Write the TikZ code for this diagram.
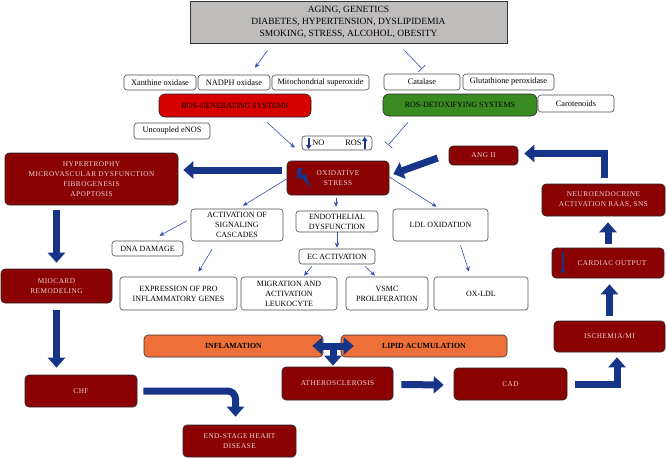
\documentclass[tikz,border=0pt]{standalone}
\usepackage{fontspec}
\setmainfont{Liberation Serif}
\newfontfamily\widefont[LetterSpace=6]{Liberation Serif}
\usetikzlibrary{positioning, arrows.meta}
\definecolor{boxred}{RGB}{139,2,2}
\definecolor{boxtext}{RGB}{240,212,212}
\definecolor{topgray}{RGB}{191,188,188}
\definecolor{genred}{RGB}{214,0,0}
\definecolor{detoxgreen}{RGB}{58,138,34}
\definecolor{lipidorange}{RGB}{238,112,56}
\definecolor{navy}{RGB}{22,52,136}
\definecolor{arrblue}{RGB}{50,82,172}

\begin{document}
\begin{tikzpicture}
    [x=1pt, y=-1pt,
     every node/.style={align=center, rounded corners=3pt, inner sep=1pt},
     plain/.style={draw=black!70, line width=.6pt, fill=white, font=\fontsize{8}{10}\selectfont},
     enzyme/.style={plain, font=\fontsize{8.3}{9}\selectfont},
     dark/.style={draw=black!85, line width=.6pt, fill=boxred, text=boxtext, rounded corners=4pt, font=\widefont\fontsize{7.3}{10}\selectfont},
     system/.style={draw=black!85, line width=.6pt, rounded corners=6pt, font=\fontsize{8}{9}\selectfont},
     orange/.style={draw=black!80, line width=.6pt, fill=lipidorange, rounded corners=4pt, font=\fontsize{7.8}{9}\selectfont\bfseries},
     arr/.style={draw=arrblue, line width=.6pt, -{Stealth[length=5pt,width=4.5pt]}},
     block/.style={draw=arrblue, line width=.6pt, -{Bar[width=10pt]}},
     fat/.style={draw=navy, line width=7pt, -{Triangle[length=10pt,width=17pt]}},
     mini/.style={draw=navy, line width=1.8pt, -{Triangle[length=4pt,width=5pt]}},
    ]
    \useasboundingbox (0,0) rectangle (667,458);

    \node (risk) [draw=black!80, line width=1pt, fill=topgray, rounded corners=0,
        minimum width=317, minimum height=42, font=\fontsize{9.5}{12}\selectfont] at (348.5,22) {
        AGING, GENETICS\\
        DIABETES, HYPERTENSION, DYSLIPIDEMIA\\
        SMOKING, STRESS, ALCOHOL, OBESITY
    };

    \node (xanthine) [enzyme, minimum width=72, minimum height=15] at (160,82.5) {Xanthine oxidase};
    \node (nadph) [enzyme, minimum width=72, minimum height=15] at (234,82.5) {NADPH oxidase};
    \node (mito) [enzyme, minimum width=97, minimum height=15] at (320.5,82.5) {Mitochondrial superoxide};
    \node (catalase) [enzyme, minimum width=76, minimum height=16] at (422,82) {Catalase};
    \node (glutathione) [enzyme, minimum width=91, minimum height=16] at (508.5,82) {Glutathione peroxidase};
    \node (ros-gen) [system, fill=genred, minimum width=152, minimum height=23] at (235,105.5) {ROS-GENERATING SYSTEMS};
    \node (ros-detox) [system, fill=detoxgreen, minimum width=154, minimum height=22] at (460,105) {ROS-DETOXIFYING SYSTEMS};
    \node (carotenoids) [enzyme, minimum width=76, minimum height=17] at (576,103.5) {Carotenoids};
    \node (enos) [enzyme, minimum width=76, minimum height=16] at (172,131) {Uncoupled eNOS};
    \node (no-ros) [enzyme, minimum width=70, minimum height=14] at (337,143) {NO\hspace{21pt}ROS};

    \node (oxidative) [dark, minimum width=102, minimum height=34] at (338,178) {OXIDATIVE\\STRESS};
    \node (hypertrophy) [dark, minimum width=173, minimum height=52] at (91.5,179) {
        HYPERTROPHY\\
        MICROVASCULAR DYSFUNCTION\\
        FIBROGENESIS\\
        APOPTOSIS
    };
    \node (ang) [dark, minimum width=69, minimum height=19] at (483.5,155.5) {ANG II};
    \node (neuro) [dark, minimum width=123, minimum height=32] at (603.5,200) {NEUROENDOCRINE\\ACTIVATION RAAS, SNS};
    \node (cardiac) [dark, minimum width=112, minimum height=30] at (608,263) {\hspace{8pt}CARDIAC OUTPUT};
    \node (ischemia) [dark, minimum width=111, minimum height=31] at (609.5,336.5) {ISCHEMIA/MI};
    \node (cad) [dark, minimum width=113, minimum height=32] at (510.5,384) {CAD};
    \node (athero) [dark, minimum width=111, minimum height=33] at (337.5,383.5) {ATHEROSCLEROSIS};
    \node (miocard) [dark, minimum width=111, minimum height=34] at (56.5,286) {MIOCARD\\REMODELING};
    \node (chf) [dark, minimum width=112, minimum height=32] at (81,391) {CHF};
    \node (end-stage) [dark, minimum width=113, minimum height=32] at (239.5,441) {END-STAGE HEART\\DISEASE};

    \node (inflamation) [orange, minimum width=179, minimum height=22] at (233.5,346) {INFLAMATION};
    \node (lipid) [orange, minimum width=166, minimum height=22] at (424,346) {LIPID ACUMULATION};

    \node (signaling) [plain, minimum width=92, minimum height=32] at (237,225) {ACTIVATION OF\\SIGNALING\\CASCADES};
    \node (endothelial) [plain, minimum width=82, minimum height=21] at (337,221.5) {ENDOTHELIAL\\DYSFUNCTION};
    \node (ldl) [plain, minimum width=95, minimum height=32] at (440.5,225) {LDL OXIDATION};
    \node (dna) [plain, minimum width=71, minimum height=15] at (147.5,248.5) {DNA DAMAGE};
    \node (ec) [plain, minimum width=76, minimum height=15] at (337,256.5) {EC ACTIVATION};
    \node (genes) [plain, minimum width=117, minimum height=33] at (178.5,293.5) {EXPRESSION OF PRO\\INFLAMMATORY GENES};
    \node (leukocyte) [plain, minimum width=96, minimum height=33] at (289,293.5) {MIGRATION AND\\ACTIVATION\\LEUKOCYTE};
    \node (vsmc) [plain, minimum width=82, minimum height=33] at (387,293.5) {VSMC\\PROLIFERATION};
    \node (ox-ldl) [plain, minimum width=94, minimum height=33] at (481,293.5) {OX-LDL};

    \fill [navy] ([shift={(11,-10)}]oxidative.west) -- ([shift={(16,-10)}]oxidative.west)
        -- ([shift={(14,-3)}]oxidative.west) -- ([shift={(19,-4)}]oxidative.west)
        -- ([shift={(24,10)}]oxidative.west) -- ([shift={(15,0)}]oxidative.west)
        -- ([shift={(10,1)}]oxidative.west) -- cycle;
    \draw [mini] ([shift={(7,-5)}]no-ros.west) -- ([shift={(7,6)}]no-ros.west);
    \draw [mini] ([shift={(63,6)}]no-ros.west) -- ([shift={(63,-6)}]no-ros.west);
    \draw [mini, line width=2.2pt] ([shift={(11,-11)}]cardiac.west) -- ([shift={(11,11)}]cardiac.west);

    \draw [arr] ([shift={(-81,7)}]risk.south) -- ([shift={(20,-26)}]ros-gen.north);
    \draw [block] ([shift={(55,6)}]risk.south) -- ([shift={(0,-5)}]catalase.north);
    \draw [arr] ([shift={(32,5)}]ros-gen.south) -- ([shift={(8,-13)}]oxidative.north west);
    \draw [block] ([shift={(-52,6)}]ros-detox.south) -- ([shift={(16,2)}]no-ros.east);

    \draw [arr] ([shift={(0,1)}]oxidative.west) -- ([shift={(6,-3)}]signaling.north);
    \draw [arr] ([shift={(-2,3)}]oxidative.south) -- ([shift={(-1,-4)}]endothelial.north);
    \draw [arr] ([shift={(0,-1)}]oxidative.east) -- ([shift={(-4,-2)}]ldl.north);
    \draw [arr] ([shift={(-4,-4)}]signaling.west) -- ([shift={(12,-5)}]dna.north);
    \draw [arr] ([shift={(-25,8)}]signaling.south) -- ([shift={(20,-5)}]genes.north);
    \draw [arr] (endothelial.south) -- ([shift={(0,-1)}]ec.north);
    \draw [arr] ([shift={(-25,2)}]ec.south) -- ([shift={(15,-1)}]leukocyte.north);
    \draw [arr] ([shift={(28,2)}]ec.south) -- ([shift={(-12,-1)}]vsmc.north);
    \draw [arr] ([shift={(20,4)}]ldl.south) -- ([shift={(-12,-5)}]ox-ldl.north);

    \draw [fat] ([shift={(-5,-8)}]oxidative.west) -- ([shift={(5,-9)}]hypertrophy.east);
    \draw [fat] ([shift={(-11,2.5)}]ang.west) -- ([shift={(4,-4)}]oxidative.east);
    \draw [fat] ([shift={(1,-6)}]neuro.north) |- ([shift={(6,-2)}]ang.east);
    \draw [fat, shorten <=4pt, shorten >=6pt] (cardiac.north) -- (cardiac.north |- neuro.south);
    \draw [fat, shorten <=5pt, shorten >=6pt] (ischemia.north) -- (ischemia.north |- cardiac.south);
    \draw [fat] ([shift={(8,0)}]cad.east) -| ([shift={(7.5,5)}]ischemia.south);
    \draw [fat, shorten <=8pt, shorten >=10pt] ([shift={(0,1)}]athero.east) -- ([shift={(0,1)}]cad.west);
    \draw [fat, shorten <=5pt, shorten >=6pt] (miocard.north |- hypertrophy.south) -- (miocard.north);
    \draw [fat, shorten <=7pt, shorten >=7pt] (miocard.south) -- (miocard.south |- chf.north);
    \draw [fat, rounded corners=8] ([shift={(6,0)}]chf.east) -| ([shift={(-4,-8)}]end-stage.north);

    \coordinate (tee) at (333,346);
    \draw [fat, {Triangle[length=10pt,width=17pt]}-{Triangle[length=10pt,width=17pt]}]
        ([shift={(-11,0)}]inflamation.east) -- ([shift={(13,0)}]lipid.west);
    \draw [fat] (tee) -- ([shift={(0,-1)}]tee |- athero.north);

\end{tikzpicture}
\end{document}
